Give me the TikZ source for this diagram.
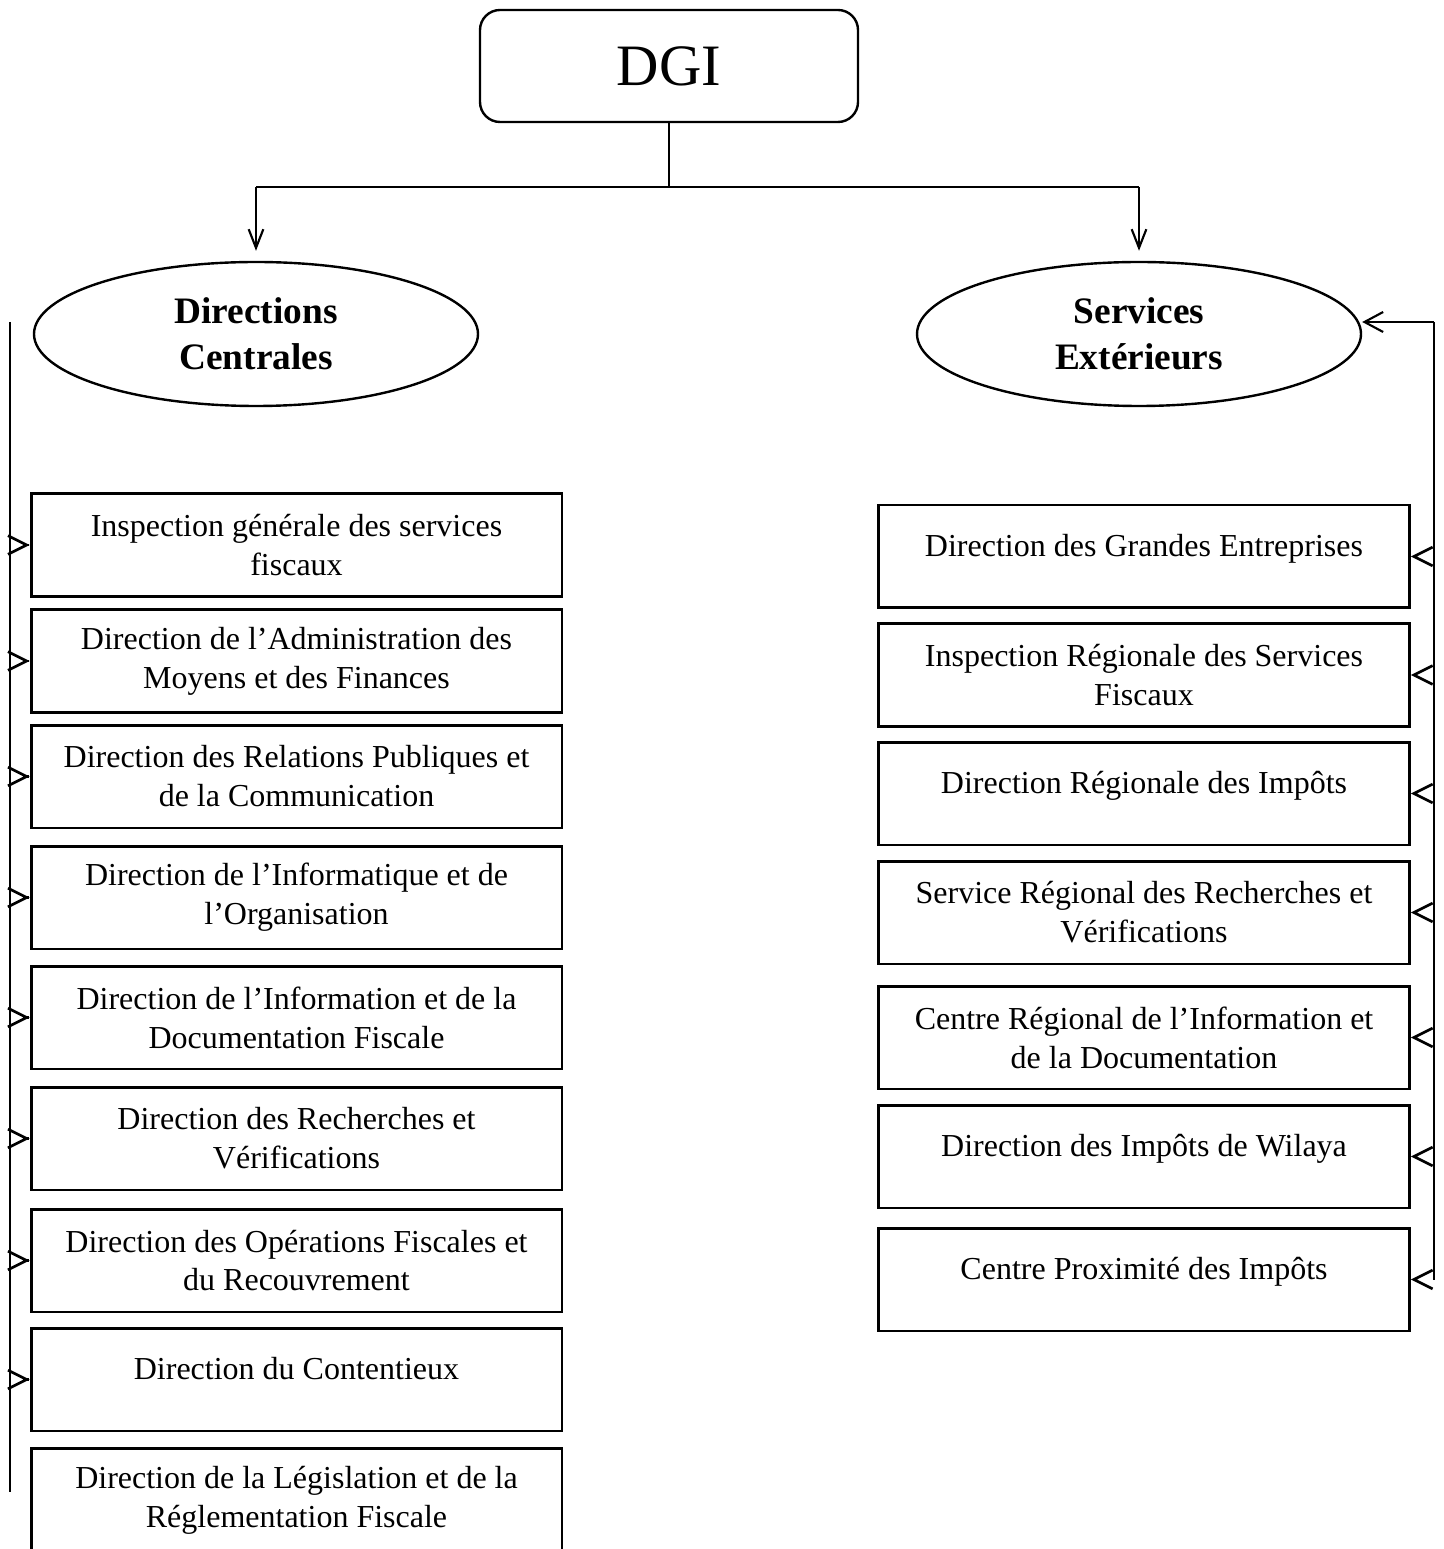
\documentclass[tikz,border=0pt]{standalone}
\usepackage{fontspec}
\setmainfont{Liberation Serif}
\usetikzlibrary{arrows.meta}
\usetikzlibrary{shapes.geometric}
\tikzset{
  topbox/.style={rectangle, rounded corners=7.5pt, draw=black, line width=0.9pt, minimum width=141.75pt, minimum height=42pt, inner sep=0pt, font=\fontsize{22}{26}\selectfont},
  branch/.style={ellipse, draw=black, line width=0.9pt, minimum width=166.5pt, minimum height=54pt, inner sep=0pt, align=center, font=\fontsize{14}{17.25}\selectfont\bfseries},
  unit/.style={rectangle, draw=black, line width=1.1pt, minimum width=199.1pt, minimum height=38.6pt, inner sep=0pt, align=center, font=\fontsize{12}{14.6}\selectfont},
  oneline/.style={text height=9pt, text depth=9pt},
  spine/.style={line width=0.5pt, color=black},
  down/.style={-{Straight Barb[length=7pt, width=5.5pt, line width=0.8pt]}, line width=0.7pt, shorten >=3.75pt},
  feed/.style={-{Straight Barb[length=7pt, width=7pt]}, line width=1pt, shorten <=7pt},
  back/.style={-{Straight Barb[length=7pt, width=7.5pt, line width=0.8pt]}, line width=0.6pt}
}
\begin{document}
\begin{tikzpicture}[x=0.375pt, y=-0.375pt]
\useasboundingbox (0,0) rectangle (1443,1549);
\node (dgi) [topbox] at (669, 66) {DGI};
\node (dc) [branch] at (256, 334) {Directions\\Centrales};
\node (se) [branch] at (1139, 334) {Services\\Extérieurs};
\coordinate (bus) at (669, 187);
\draw [line width=0.4pt] (dgi) to (bus);
\draw [line width=0.7pt] (dc |- bus) to (se |- bus);
\draw [down] (dc |- bus) to (dc.north);
\draw [down] (se |- bus) to (se.north);
\node (d1) [unit] at (296.5, 545) {Inspection générale des services\\fiscaux};
\node (d2) [unit] at (296.5, 661) {Direction de l’Administration des\\Moyens et des Finances};
\node (d3) [unit] at (296.5, 776.5) {Direction des Relations Publiques et\\de la Communication};
\node (d4) [unit] at (296.5, 897.5) {Direction de l’Informatique et de\\l’Organisation};
\node (d5) [unit] at (296.5, 1017.5) {Direction de l’Information et de la\\Documentation Fiscale};
\node (d6) [unit] at (296.5, 1138.5) {Direction des Recherches et\\Vérifications};
\node (d7) [unit] at (296.5, 1260.5) {Direction des Opérations Fiscales et\\du Recouvrement};
\node (d8) [unit, oneline] at (296.5, 1379.5) {Direction du Contentieux};
\node (d9) [unit] at (296.5, 1500) {Direction de la Législation et de la\\Réglementation Fiscale};
\node (s1) [unit, oneline] at (1144, 556.5) {Direction des Grandes Entreprises};
\node (s2) [unit] at (1144, 675) {Inspection Régionale des Services\\Fiscaux};
\node (s3) [unit, oneline] at (1144, 793.5) {Direction Régionale des Impôts};
\node (s4) [unit] at (1144, 912.5) {Service Régional des Recherches et\\Vérifications};
\node (s5) [unit] at (1144, 1037.5) {Centre Régional de l’Information et\\de la Documentation};
\node (s6) [unit, oneline] at (1144, 1156.5) {Direction des Impôts de Wilaya};
\node (s7) [unit, oneline] at (1144, 1279.5) {Centre Proximité des Impôts};
\coordinate (ltop) at (10, 322);
\coordinate (lbot) at (10, 1492);
\coordinate (rtop) at (1434, 322);
\draw [spine] (ltop) to (lbot);
\draw [feed] (ltop |- d1.west) to (d1.west);
\draw [feed] (ltop |- d2.west) to (d2.west);
\draw [feed] (ltop |- d3.west) to (d3.west);
\draw [feed] (ltop |- d4.west) to (d4.west);
\draw [feed] (ltop |- d5.west) to (d5.west);
\draw [feed] (ltop |- d6.west) to (d6.west);
\draw [feed] (ltop |- d7.west) to (d7.west);
\draw [feed] (ltop |- d8.west) to (d8.west);
\draw [spine] (rtop) to (rtop |- s7.east);
\draw [back] (rtop) to (rtop -| se.east);
\draw [feed] (rtop |- s1.east) to (s1.east);
\draw [feed] (rtop |- s2.east) to (s2.east);
\draw [feed] (rtop |- s3.east) to (s3.east);
\draw [feed] (rtop |- s4.east) to (s4.east);
\draw [feed] (rtop |- s5.east) to (s5.east);
\draw [feed] (rtop |- s6.east) to (s6.east);
\draw [feed] (rtop |- s7.east) to (s7.east);
\end{tikzpicture}
\end{document}
